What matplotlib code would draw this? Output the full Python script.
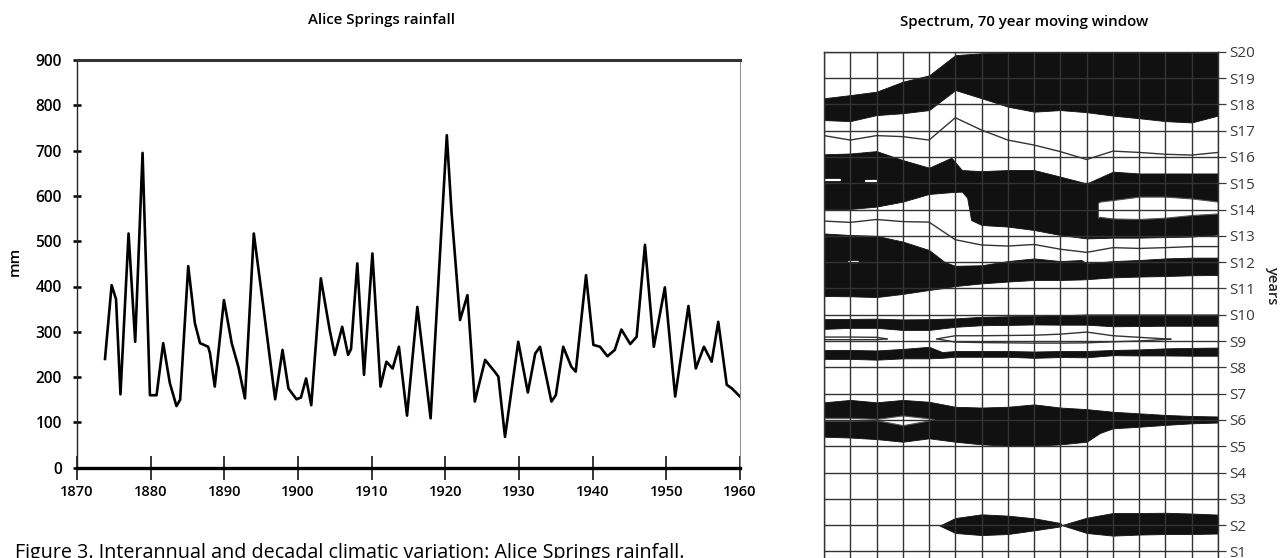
import matplotlib
matplotlib.use("Agg")
import matplotlib.pyplot as plt

plt.rcParams['font.family'] = ['Open Sans', 'DejaVu Sans']

# ---------------- Alice Springs rainfall (mm) ----------------
years = [1873.8, 1874.7, 1875.3, 1875.9, 1877.0, 1877.9, 1878.9, 1879.9, 1880.8, 1881.7,
         1882.6, 1883.5, 1884.0, 1885.1, 1886.0, 1886.7, 1887.8, 1888.05, 1888.7, 1889.95,
         1891.0, 1891.9, 1892.8, 1894.0, 1895.3, 1895.75, 1896.9, 1897.9, 1898.7, 1899.8,
         1900.4, 1901.1, 1901.8, 1903.1, 1904.3, 1905.0, 1906.0, 1906.8, 1907.2, 1908.05,
         1908.96, 1910.1, 1911.2, 1912.0, 1912.85, 1913.7, 1914.8, 1916.2, 1918.0, 1920.2,
         1920.85, 1922.0, 1923.0, 1924.0, 1925.4, 1926.7, 1927.2, 1928.1, 1929.9, 1931.2,
         1932.2, 1932.85, 1934.4, 1935.0, 1936.0, 1937.1, 1937.7, 1939.1, 1940.1, 1941.0,
         1942.0, 1943.0, 1943.9, 1945.1, 1945.97, 1947.1, 1948.3, 1949.8, 1951.2, 1953.0,
         1954.0, 1955.1, 1956.15, 1957.05, 1958.2, 1958.9, 1960.0]
rain = [240, 403, 372, 162, 517, 278, 695, 160, 160, 275,
        187, 136, 150, 445, 319, 275, 267, 253, 179, 370,
        275, 223, 153, 517, 355, 297, 151, 260, 175, 151,
        155, 197, 138, 418, 304, 249, 311, 249, 262, 451,
        205, 473, 179, 234, 219, 267, 115, 355, 109, 734,
        562, 326, 381, 146, 238, 212, 201, 68, 278, 166,
        252, 267, 146, 160, 267, 223, 212, 425, 271, 267,
        246, 260, 305, 273, 289, 492, 267, 398, 157, 357,
        219, 267, 234, 322, 183, 175, 157]
year_ticks = [1870, 1880, 1890, 1900, 1910, 1920, 1930, 1940, 1950, 1960]
mm_ticks = [0, 100, 200, 300, 400, 500, 600, 700, 800, 900]

# ---------------- Spectrum, 70 year moving window ----------------
s_labels = ['S%d' % i for i in range(1, 21)]
cols = list(range(16))

# filled bands: x positions (window steps), lower and upper edges (S units)
a_x = cols
a_lo = [17.40, 17.36, 17.59, 17.66, 17.78, 18.54, 18.23, 17.91, 17.72, 17.78, 17.70, 17.57, 17.47, 17.36, 17.31, 17.57]
a_hi = [18.23, 18.35, 18.48, 18.86, 19.10, 19.87, 19.94, 19.97, 20.0, 20.0, 20.0, 20.0, 20.0, 20.0, 20.0, 20.0]

b_x = [0, 1, 2, 3, 4, 4.85, 5.25, 5.45, 5.6, 6, 7, 8, 9, 10, 11, 12, 13, 14, 15]
b_lo = [14.02, 14.02, 14.11, 14.30, 14.59, 14.66, 14.68, 14.45, 13.60, 13.41, 13.35, 13.22, 13.03, 12.90, 12.93, 12.93, 12.95, 12.97, 13.05]
b_hi = [16.10, 16.13, 16.22, 15.88, 15.59, 15.97, 15.50, 15.49, 15.48, 15.46, 15.50, 15.50, 15.25, 14.99, 15.44, 15.37, 15.37, 15.37, 15.37]

c_x = [0, 1, 2, 3, 4, 4.6, 5, 6, 7, 8, 9, 9.8, 10, 11, 12, 13, 14, 15]
c_lo = [10.71, 10.70, 10.67, 10.79, 10.94, 11.02, 11.09, 11.19, 11.26, 11.32, 11.32, 11.34, 11.35, 11.42, 11.45, 11.47, 11.50, 11.51]
c_hi = [13.09, 13.03, 13.00, 12.78, 12.46, 12.00, 11.86, 11.88, 12.04, 12.14, 12.04, 12.08, 11.95, 12.04, 12.08, 12.14, 12.17, 12.17]

d_x = cols
d_lo = [9.46, 9.50, 9.50, 9.42, 9.42, 9.54, 9.60, 9.61, 9.63, 9.62, 9.62, 9.56, 9.57, 9.58, 9.58, 9.58]
d_hi = [9.83, 9.84, 9.85, 9.82, 9.83, 9.86, 9.92, 9.94, 9.96, 9.98, 10.01, 10.01, 10.01, 10.01, 10.01, 10.01]

e_x = [0, 1, 2, 3, 4, 4.5, 5, 6, 7, 8, 9, 10, 11, 12, 13, 14, 15]
e_lo = [8.32, 8.32, 8.29, 8.34, 8.34, 8.36, 8.40, 8.40, 8.40, 8.36, 8.39, 8.38, 8.46, 8.45, 8.45, 8.44, 8.44]
e_hi = [8.66, 8.66, 8.64, 8.70, 8.78, 8.58, 8.62, 8.62, 8.62, 8.60, 8.62, 8.62, 8.66, 8.68, 8.72, 8.74, 8.75]

f_x = [0, 1, 2, 3, 4, 5, 6, 7, 8, 9, 10, 10.5, 11, 12, 13, 14, 15]
f_lo = [5.36, 5.33, 5.27, 5.17, 5.30, 5.17, 5.07, 5.02, 5.02, 5.07, 5.17, 5.50, 5.68, 5.74, 5.81, 5.87, 5.90]
f_hi = [6.67, 6.76, 6.67, 6.76, 6.69, 6.50, 6.47, 6.50, 6.59, 6.47, 6.41, 6.36, 6.31, 6.25, 6.19, 6.15, 6.13]

g_x = [4.4, 5, 6, 7, 8, 9, 9.05, 10, 11, 12, 13, 14, 15]
g_lo = [1.98, 1.70, 1.62, 1.66, 1.80, 1.95, 2.00, 1.70, 1.60, 1.64, 1.66, 1.66, 1.68]
g_hi = [1.98, 2.27, 2.41, 2.36, 2.26, 2.08, 2.00, 2.28, 2.46, 2.46, 2.47, 2.44, 2.40]

# openings inside bands
hb_x = [10.43, 10.5, 11, 12, 13, 14, 15]
hb_lo = [13.70, 13.72, 13.66, 13.64, 13.69, 13.79, 13.85]
hb_hi = [14.25, 14.30, 14.36, 14.49, 14.49, 14.42, 14.30]

hf_x = [0, 1, 2, 3, 4, 4.2]
hf_lo = [5.97, 5.97, 5.99, 5.80, 5.98, 6.02]
hf_hi = [6.08, 6.08, 6.04, 6.17, 6.06, 6.02]

# thin contour lines
l1_x = cols
l1_y = [16.81, 16.64, 16.81, 16.77, 16.64, 17.49, 17.02, 16.64, 16.45, 16.20, 15.90, 16.22, 16.17, 16.10, 16.07, 16.17]
l2_x = cols
l2_y = [13.56, 13.51, 13.62, 13.54, 13.52, 12.85, 12.65, 12.61, 12.67, 12.49, 12.37, 12.55, 12.52, 12.55, 12.59, 12.59]
l3_x = [0, 1, 2, 2.4]
l3_up = [9.15, 9.15, 9.14, 9.08]
l3_dn = [9.05, 9.05, 9.05, 9.08]
l4_x = [4.3, 5, 6, 7, 8, 9, 10, 11, 12, 13.2]
l4_up = [9.08, 9.20, 9.20, 9.21, 9.22, 9.26, 9.34, 9.20, 9.14, 9.07]
l4_dn = [9.08, 8.96, 8.94, 8.93, 8.92, 8.92, 8.93, 8.97, 9.00, 9.07]

# short white slits
slit_x0 = [0.0, 1.6, 0.95]
slit_x1 = [0.6, 2.0, 1.30]
slit_y = [15.12, 15.10, 11.99]

W, H = 1287, 558
fig = plt.figure(figsize=(W / 100, H / 100), dpi=100)
fig.patch.set_facecolor('white')

def fx(px):
    return px / W

def fy(py):
    return 1 - py / H

# ---------------- left panel ----------------
ax = fig.add_axes([fx(77), fy(467.7), fx(740) - fx(77), fy(60) - fy(467.7)])
ax.plot(years, rain, color='black', lw=1.9, solid_joinstyle='round')
ax.set_xlim(1870, 1960)
ax.set_ylim(0, 900)
ax.set_xticks(year_ticks)
ax.set_yticks(mm_ticks)
ax.set_xticklabels([str(t) for t in year_ticks])
ax.set_yticklabels([str(t) for t in mm_ticks])
ax.tick_params(axis='y', direction='inout', length=6, width=1.8, pad=8,
               labelsize=11.2, colors='black')
ax.tick_params(axis='x', direction='inout', length=17, width=1.1, pad=4,
               labelsize=10.5, colors='black')
for lab in ax.get_xticklabels() + ax.get_yticklabels():
    lab.set_fontweight('semibold')
ax.spines['top'].set_linewidth(2.2)
ax.spines['top'].set_color('#333333')
ax.spines['bottom'].set_linewidth(2.4)
ax.spines['bottom'].set_color('black')
ax.spines['left'].set_linewidth(1.0)
ax.spines['left'].set_color('#222222')
ax.spines['right'].set_linewidth(0.7)
ax.spines['right'].set_color('#888888')

fig.text(fx(381.5), fy(20), 'Alice Springs rainfall', ha='center', va='center',
         fontsize=10.8, fontweight='semibold')
fig.text(fx(15), fy(261), 'mm', ha='center', va='center', rotation=90,
         fontsize=11, fontweight='semibold')

# ---------------- right panel ----------------
ax2 = fig.add_axes([fx(824), fy(51.7 + 20 * 26.3), fx(1218) - fx(824), 20 * 26.3 / H])
ax2.set_xlim(0, 15)
ax2.set_ylim(0, 20)
band = '#111111'
for bx, lo, hi in [(a_x, a_lo, a_hi), (b_x, b_lo, b_hi), (c_x, c_lo, c_hi),
                   (d_x, d_lo, d_hi), (e_x, e_lo, e_hi), (f_x, f_lo, f_hi),
                   (g_x, g_lo, g_hi)]:
    ax2.fill_between(bx, lo, hi, color=band, lw=0.6, ec=band, zorder=2)
for bx, lo, hi in [(hb_x, hb_lo, hb_hi), (hf_x, hf_lo, hf_hi)]:
    ax2.fill_between(bx, lo, hi, color='white', lw=0.8, ec='#555555', zorder=3)
for x0, x1, y in zip(slit_x0, slit_x1, slit_y):
    ax2.plot([x0, x1], [y, y], color='white', lw=1.6, solid_capstyle='round', zorder=3)
line_kw = dict(color='#333333', lw=1.0, zorder=4)
ax2.plot(l1_x, l1_y, **line_kw)
ax2.plot(l2_x, l2_y, **line_kw)
ax2.plot(l3_x, l3_up, **line_kw)
ax2.plot(l3_x, l3_dn, **line_kw)
ax2.plot(l4_x, l4_up, **line_kw)
ax2.plot(l4_x, l4_dn, **line_kw)

grid_c = '#333333'
for x in cols:
    ax2.axvline(x, color=grid_c, lw=1.0, zorder=5)
for y in range(0, 21):
    ax2.axhline(y, color=grid_c, lw=1.0, zorder=5)
for sp in ax2.spines.values():
    sp.set_color(grid_c)
    sp.set_linewidth(1.0)
    sp.set_zorder(6)
ax2.set_xticks([])
ax2.yaxis.tick_right()
ax2.set_yticks(range(1, 21))
ax2.set_yticklabels(s_labels)
ax2.tick_params(axis='y', direction='out', length=6, width=0.9, pad=2,
                labelsize=11, colors='#3a3a3a')
ax2.tick_params(axis='y', left=False)

fig.text(fx(1024.5), fy(22), 'Spectrum, 70 year moving window', ha='center', va='center',
         fontsize=10.8, fontweight='semibold')
fig.text(fx(1272), fy(285), 'years', ha='center', va='center', rotation=270,
         fontsize=10.5, fontweight='semibold', color='#222222')

fig.text(fx(15), fy(558), 'Figure 3. Interannual and decadal climatic variation: Alice Springs rainfall.',
         ha='left', va='baseline', fontsize=14.2)

fig.savefig('out.png', dpi=100, facecolor='white')
